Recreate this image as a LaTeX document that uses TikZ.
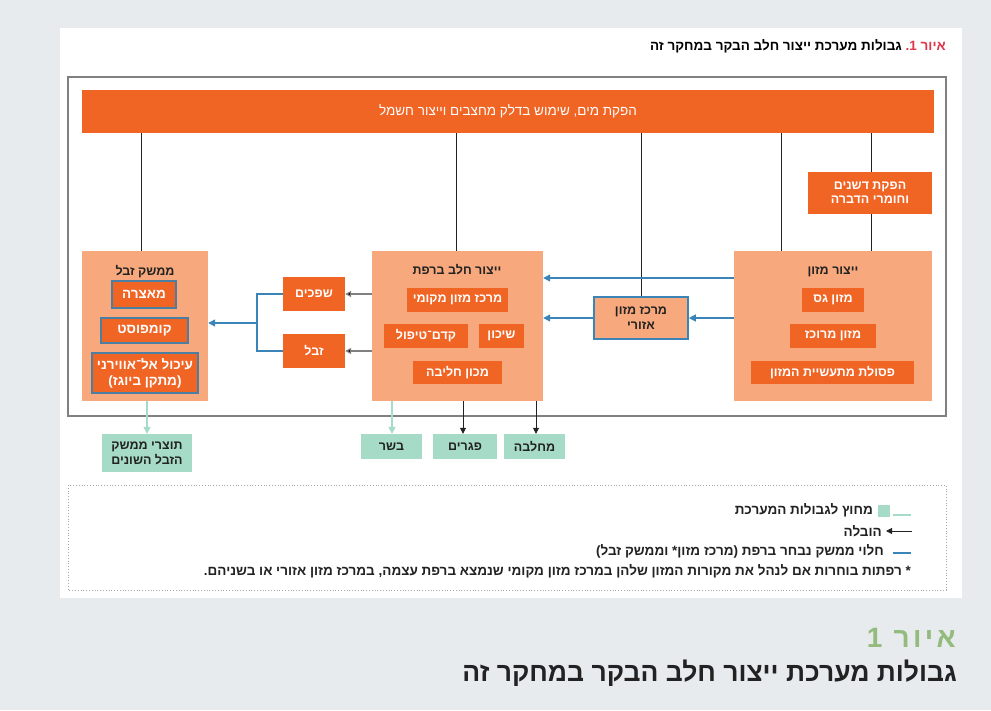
\documentclass[tikz,border=0pt]{standalone}
\usepackage{fontspec}
\setmainfont{Liberation Sans}[Script=Hebrew]
\TeXXeTstate=1
\usetikzlibrary{arrows.meta,calc}
\newcommand{\hb}[1]{\beginR #1\endR}
\definecolor{bgc}{HTML}{E7EBEE}
\definecolor{org}{HTML}{F06424}
\definecolor{lorg}{HTML}{F7A87C}
\definecolor{blu}{HTML}{3A84B8}
\definecolor{bbord}{HTML}{4A7FA3}
\definecolor{tea}{HTML}{A6DBC8}
\definecolor{grn}{HTML}{93BB7D}
\definecolor{redt}{HTML}{E0364A}
\definecolor{dark}{HTML}{222222}
\definecolor{lgray}{HTML}{808080}
\tikzset{
  obox/.style={fill=org, text=white, font=\bfseries\fontsize{12.5}{14}\selectfont, inner sep=0pt, align=center},
  bbox/.style={fill=lorg, inner sep=0pt},
  mbox/.style={obox, draw=bbord, line width=1.6pt, font=\bfseries\fontsize{13.5}{16}\selectfont},
  tlabel/.style={text=dark, font=\bfseries\fontsize{12.5}{14}\selectfont, inner sep=0pt},
  rbox/.style={fill=lorg, draw=blu, line width=1.6pt, text=dark, font=\bfseries\fontsize{12.5}{15}\selectfont, inner sep=0pt, align=center},
  tbox/.style={fill=tea, text=dark, font=\bfseries\fontsize{12.5}{15}\selectfont, inner sep=0pt, align=center},
  vline/.style={draw=dark, line width=0.7pt},
  bluearr/.style={draw=blu, line width=1.2pt, -{Triangle[width=7pt,length=7pt]}},
  blueln/.style={draw=blu, line width=1.2pt},
  grayarr/.style={draw=lgray, line width=1.2pt, -{Triangle[width=6pt,length=6pt,fill=black]}},
  blkarr/.style={draw=dark, line width=0.8pt, -{Triangle[width=6pt,length=6pt]}},
  teaarr/.style={draw=tea, line width=1.4pt, -{Triangle[width=7pt,length=7pt]}},
  legtext/.style={text=dark, font=\bfseries\fontsize{13.5}{15}\selectfont, inner sep=0pt, anchor=east},
}
\begin{document}
\begin{tikzpicture}[x=1pt,y=-1pt]
\fill[bgc] (0,0) rectangle (991,710);
\useasboundingbox (0,0) rectangle (991,710);
\fill[white] (60,28) rectangle (962,598);

% title
\node[anchor=east, inner sep=0pt, font=\bfseries\fontsize{13.5}{15}\selectfont] (ttl) at (946,46)
  {\hb{גבולות מערכת ייצור חלב הבקר במחקר זה}\ \textcolor{redt}{\hb{איור 1\hbox{.}}}};

% system boundary
\draw[lgray, line width=1.3pt] (68,77) rectangle (946,416);

% top bar
\node[fill=org, text=white, font=\fontsize{13.5}{15}\selectfont, minimum width=852pt, minimum height=43pt, inner sep=0pt] (bar) at (508,111.5)
  {\hb{הפקת מים\hbox{,} שימוש בדלק מחצבים וייצור חשמל}};

% fertilizer
\node[obox, minimum width=124pt, minimum height=42pt] (dshn) at (870,193)
  {\hb{הפקת דשנים}\\\hb{וחומרי הדברה}};

% food production
\node[bbox, minimum width=198pt, minimum height=150pt] (food) at (833,326) {};
\node[tlabel] (foodt) at (833,272) {\hb{ייצור מזון}};
\node[obox, minimum width=62pt, minimum height=24pt] (gas) at (833,300) {\hb{מזון גס}};
\node[obox, minimum width=86pt, minimum height=24pt] (conc) at (833,336) {\hb{מזון מרוכז}};
\node[obox, minimum width=163pt, minimum height=23pt] (waste) at (832.5,372.5) {\hb{פסולת מתעשיית המזון}};

% regional feed center
\node[rbox, minimum width=94pt, minimum height=42pt] (reg) at (641,318) {\hb{מרכז מזון}\\\hb{אזורי}};

% farm
\node[bbox, minimum width=171pt, minimum height=150pt] (farm) at (457.5,326) {};
\node[tlabel] (farmt) at (457,270) {\hb{ייצור חלב ברפת}};
\node[obox, minimum width=101pt, minimum height=24pt] (local) at (457.5,300) {\hb{מרכז מזון מקומי}};
\node[obox, minimum width=84pt, minimum height=24pt] (pre) at (426,336) {\hb{קדם־טיפול}};
\node[obox, minimum width=45pt, minimum height=24pt] (house) at (501.5,336) {\hb{שיכון}};
\node[obox, minimum width=89pt, minimum height=23pt] (milk) at (457.5,372.5) {\hb{מכון חליבה}};

% effluents and manure
\node[obox, minimum width=62pt, minimum height=34pt] (shf) at (314,294) {\hb{שפכים}};
\node[obox, minimum width=62pt, minimum height=34pt] (zvl) at (314,351) {\hb{זבל}};

% manure management
\node[bbox, minimum width=126pt, minimum height=150pt] (man) at (145,326) {};
\node[tlabel] (mant) at (145,272) {\hb{ממשק זבל}};
\node[mbox, minimum width=64pt, minimum height=27pt] (maz) at (144,294.5) {\hb{מאצרה}};
\node[mbox, minimum width=87pt, minimum height=25pt] (comp) at (144.5,330.5) {\hb{קומפוסט}};
\node[mbox, minimum width=106pt, minimum height=40pt] (dig) at (145,373) {\hb{עיכול אל־אווירני}\\\hb{\hbox{(}מתקן ביוגז\hbox{)}}};

% outputs
\node[tbox, minimum width=90pt, minimum height=38pt] (prod) at (147,453) {\hb{תוצרי ממשק}\\\hb{הזבל השונים}};
\node[tbox, minimum width=61pt, minimum height=25pt] (meat) at (391.5,446.5) {\hb{בשר}};
\node[tbox, minimum width=64pt, minimum height=25pt] (carc) at (465,446.5) {\hb{פגרים}};
\node[tbox, minimum width=61pt, minimum height=25pt] (dairy) at (534.5,446.5) {\hb{מחלבה}};

% vertical lines from bar
\draw[vline] (141,0 |- bar.south) -- (141,0 |- man.north);
\draw[vline] (456,0 |- bar.south) -- (456,0 |- farm.north);
\draw[vline] (reg.north |- bar.south) -- (reg.north);
\draw[vline] (781,0 |- bar.south) -- (781,0 |- food.north);
\draw[vline] (871,0 |- bar.south) -- (871,0 |- dshn.north);
\draw[vline] (871,0 |- dshn.south) -- (871,0 |- food.north);

% blue flows
\draw[bluearr] (food.west |- 0,278) -- (farm.east |- 0,278);
\draw[bluearr] (food.west |- reg.east) -- (reg.east);
\draw[bluearr] (reg.west) -- (farm.east |- reg.west);

% farm to effluent / manure
\draw[grayarr] (farm.west |- shf.east) -- (shf.east);
\draw[grayarr] (farm.west |- zvl.east) -- (zvl.east);

% bracket to manure management
\coordinate (br) at (257,323);
\draw[blueln] (shf.west) -| (br) |- (zvl.west);
\draw[bluearr] (br) -- (br -| man.east);

% outputs arrows
\draw[teaarr] (147,0 |- man.south) -- (147,0 |- prod.north);
\draw[teaarr] (392,0 |- farm.south) -- (392,0 |- meat.north);
\draw[blkarr] (463,0 |- farm.south) -- (463,0 |- carc.north);
\draw[blkarr] (536,0 |- farm.south) -- (536,0 |- dairy.north);

% legend
\draw[lgray!70, dotted, line width=0.8pt] (68,485) rectangle (946,590);
\node[fill=tea, minimum size=12pt, inner sep=0pt] (lsq) at (883.5,510.5) {};
\coordinate (lt1a) at (893,515);
\coordinate (lt1b) at (911,515);
\draw[tea, line width=1.2pt] (lt1a) -- (lt1b);
\node[legtext] (lg1) at (873,510) {\hb{מחוץ לגבולות המערכת}};
\coordinate (la1) at (912,531);
\coordinate (la2) at (886,531);
\draw[blkarr] (la1) -- (la2);
\node[legtext] (lg2) at (882,531) {\hb{הובלה}};
\coordinate (lb1) at (893,553);
\coordinate (lb2) at (911,553);
\draw[blu, line width=2pt] (lb1) -- (lb2);
\node[legtext] (lg3) at (884,551) {\hb{חלוי ממשק נבחר ברפת \hbox{(}מרכז מזון\hbox{*} וממשק זבל\hbox{)}}};
\node[legtext] (lg4) at (911,571) {\hb{\hbox{*} רפתות בוחרות אם לנהל את מקורות המזון שלהן במרכז מזון מקומי שנמצא ברפת עצמה\hbox{,} במרכז מזון אזורי או בשניהם\hbox{.}}};

% caption
\node[anchor=east, inner sep=0pt, text=grn, font=\bfseries\fontsize{28}{32}\selectfont\addfontfeature{LetterSpace=12}] (cap1) at (956,638) {\hb{איור 1}};
\node[anchor=east, inner sep=0pt, text=dark, font=\bfseries\fontsize{26.5}{30}\selectfont] (cap2) at (957,673) {\hb{גבולות מערכת ייצור חלב הבקר במחקר זה}};
\end{tikzpicture}
\end{document}
